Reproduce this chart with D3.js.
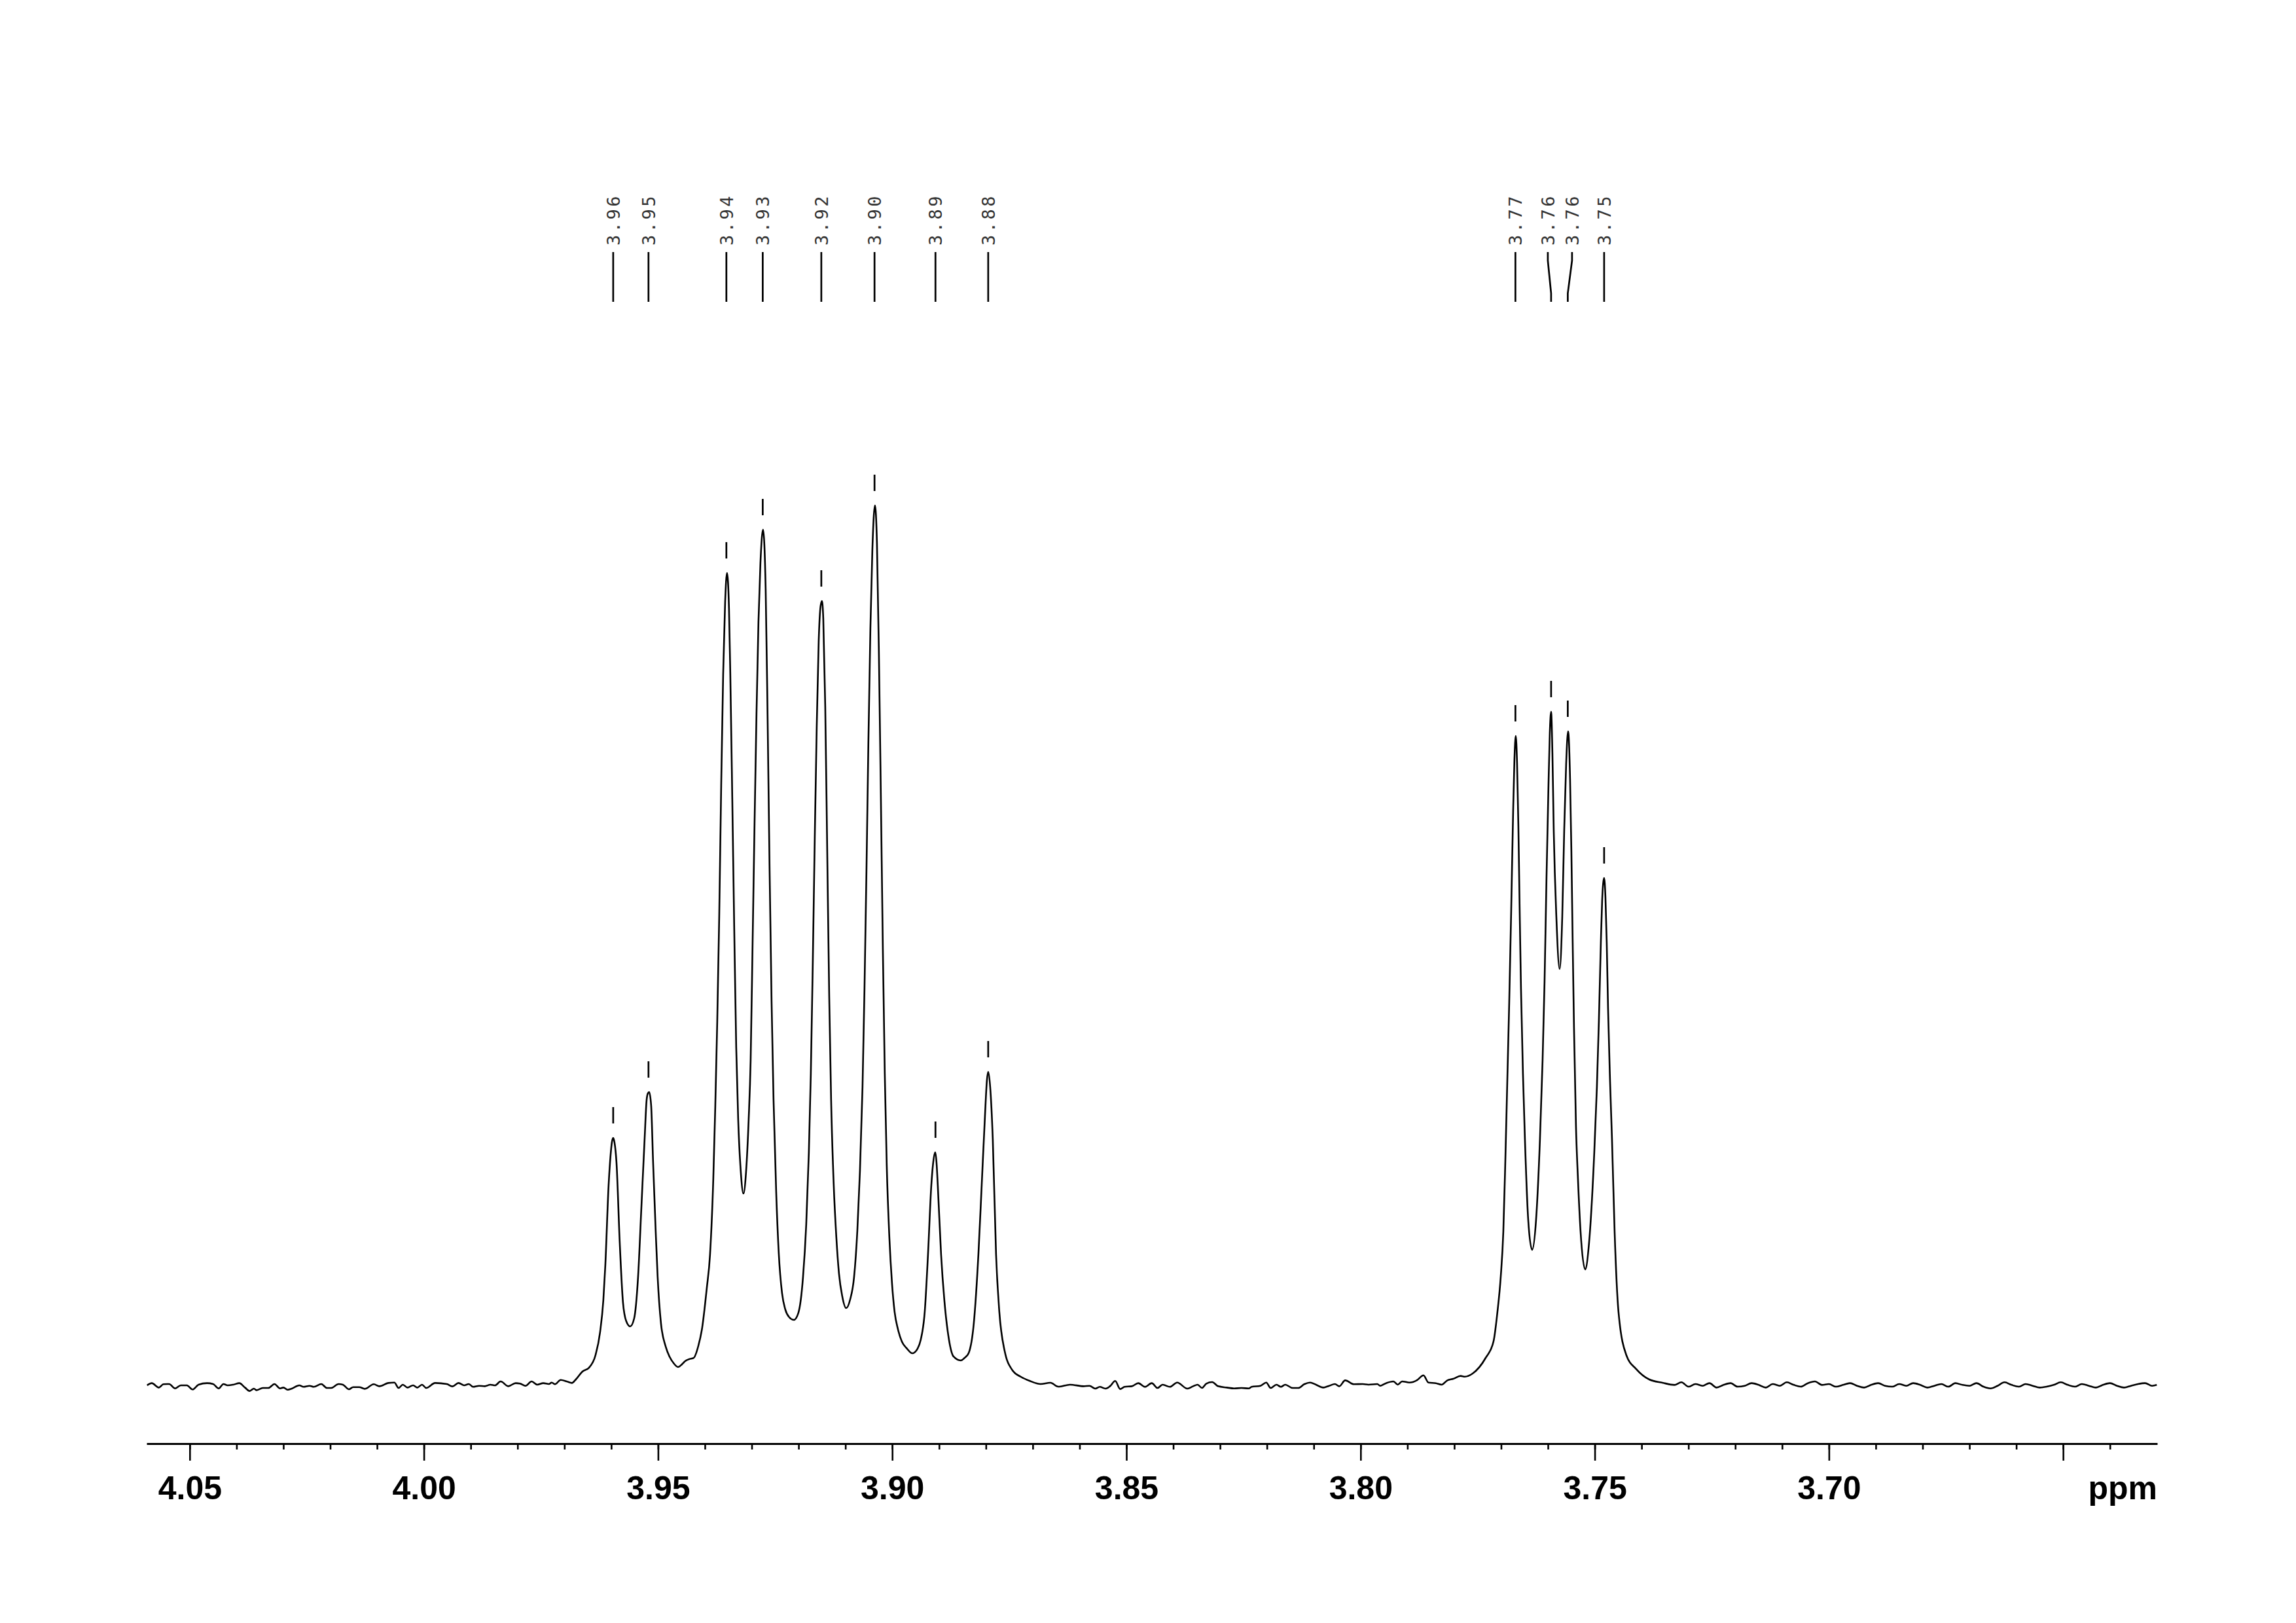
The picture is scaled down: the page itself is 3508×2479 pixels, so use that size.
<!DOCTYPE html>
<html><head><meta charset="utf-8">
<script src="https://cdn.jsdelivr.net/npm/d3@7"></script>
<style>html,body{margin:0;padding:0;background:#fff;} svg{display:block}</style>
</head><body>
<script>
// ---- DATA (ppm, relative intensity; tallest line = 100) ----
const baselineLeft = [[4.0591,-0.15],[4.0581,0.10],[4.0566,-0.40],[4.0556,-0.02],[4.0544,0],[4.0531,-0.50],[4.0519,-0.15],[4.0506,-0.15],[4.0494,-0.62],[4.0481,-0.07],[4.0463,0.10],[4.0450,0],[4.0438,-0.50],[4.0428,0],[4.0419,-0.15],[4.0407,-0.07],[4.0394,0.10],[4.0382,-0.40],[4.0372,-0.79],[4.0363,-0.52],[4.0357,-0.70],[4.0344,-0.45],[4.0332,-0.45],[4.0319,0],[4.0307,-0.50],[4.0300,-0.40],[4.0291,-0.65],[4.0282,-0.52],[4.0266,-0.15],[4.0257,-0.32],[4.0244,-0.20],[4.0235,-0.32],[4.0219,0],[4.0207,-0.45],[4.0198,-0.45],[4.0182,0],[4.0173,-0.07],[4.0160,-0.60],[4.0151,-0.35],[4.0138,-0.35],[4.0126,-0.55],[4.0107,-0.02],[4.0095,-0.25],[4.0076,0.12],[4.0063,0.17],[4.0054,-0.45],[4.0045,-0.07],[4.0035,-0.40],[4.0023,-0.15],[4.0014,-0.40],[4.0004,-0.07],[3.9995,-0.45],[3.9976,0.12],[3.9951,0],[3.9939,-0.27],[3.9926,0.12],[3.9914,-0.15],[3.9904,0],[3.9895,-0.32],[3.9882,-0.20],[3.9870,-0.25],[3.9858,-0.07],[3.9848,-0.15],[3.9836,0.30],[3.9820,-0.25],[3.9804,0.10],[3.9795,0.05],[3.9783,-0.20],[3.9770,0.30],[3.9758,-0.07],[3.9745,0.10],[3.9733,0],[3.9727,0.17],[3.9720,-0.02],[3.9708,0.47],[3.9695,0.30],[3.9684,0.12]];

const multipletA = [[3.96755,0.52],[3.96615,1.42],[3.96475,1.86],[3.96336,3.28],[3.96238,5.89],[3.96168,9.54],[3.96126,13.49],[3.96056,22.58],[3.96014,26.01],[3.95986,27.50],[3.95958,28.02],[3.95930,27.50],[3.95888,25.26],[3.95818,16.10],[3.95749,9.31],[3.95679,7.15],[3.95595,6.56],[3.95511,7.45],[3.95427,12.15],[3.95357,19.97],[3.95287,27.87],[3.95245,32.27],[3.95218,33.08],[3.95190,33.23],[3.95148,31.74],[3.95106,25.26],[3.95050,17.36],[3.95008,12.15],[3.94938,6.93],[3.94840,4.32],[3.94756,3.13],[3.94658,2.31],[3.94575,1.94],[3.94491,2.24],[3.94421,2.61],[3.94337,2.83],[3.94239,2.98],[3.94141,4.32],[3.94058,6.41],[3.93960,10.88],[3.93890,14.75],
[3.93820,23.40],[3.93778,31.59],[3.93736,41.28],[3.93694,53.20],[3.93652,68.11],[3.93610,80.77],[3.93568,88.97],[3.93527,92.32],[3.93485,88.23],[3.93457,80.77],
[3.93415,66.62],[3.93373,51.71],[3.93331,38.30],[3.93289,30.10],[3.93233,24.14],[3.93177,21.68],[3.93121,24.14],[3.93065,30.10],[3.93023,36.81],[3.92981,50.22],[3.92940,63.64],[3.92898,76.30],[3.92856,86.74],[3.92814,93.44],[3.92758,97.24],
[3.92702,90.46],[3.92660,75.56],[3.92618,58.42],[3.92576,43.52],[3.92534,32.34],[3.92478,21.91],[3.92422,14.83],[3.92353,10.36],[3.92283,8.49],[3.92199,7.60],[3.92101,7.30],[3.92003,8.12],[3.91905,12.15],
[3.91836,18.18],[3.91780,26.38],[3.91738,35.32],[3.91696,47.99],[3.91654,62.15],[3.91612,74.81],[3.91570,84.50],[3.91528,88.60],[3.91500,89.12],
[3.91472,87.11],[3.91430,77.05],[3.91388,60.66],[3.91346,44.26],[3.91305,32.34],[3.91249,22.65],[3.91193,16.69],[3.91137,12.59],[3.91067,9.99],[3.90983,8.64],[3.90899,9.61],[3.90815,12.15],
[3.90745,17.44],[3.90690,24.14],[3.90634,33.83],[3.90592,45.01],[3.90550,58.42],[3.90508,73.32],[3.90466,85.99],[3.90424,94.93],[3.90368,100],
[3.90326,95.68],[3.90284,83.01],[3.90242,66.62],[3.90200,49.48],[3.90159,35.32],[3.90117,24.89],[3.90061,16.69],[3.90005,11.48],[3.89949,8.20],
[3.89879,6.26],[3.89795,4.84],[3.89683,4.02],[3.89572,3.50],[3.89460,4.02],[3.89390,5.07],[3.89306,8.20],[3.89236,14.75],[3.89166,22.58],[3.89124,25.26],[3.89082,26.38],[3.89055,25.26],[3.89027,22.58],[3.88957,14.75],[3.88887,9.54],[3.88789,5.07],[3.88691,3.13],[3.88537,2.68],[3.88454,2.98],[3.88370,3.50],[3.88258,6.93],[3.88160,14.75],[3.88090,22.58],[3.88020,30.48],[3.87978,34.58],[3.87951,35.54],[3.87909,33.83],[3.87853,27.87],[3.87783,14.75],[3.87713,8.20],[3.87601,3.80],[3.87433,1.56],[3.87252,0.82],[3.87070,0.37],[3.86832,0],[3.86623,0.15],[3.86455,-0.30],[3.86204,-0.07]];

const baselineMid = [[3.85913,-0.25],[3.85789,-0.20],[3.85663,-0.52],[3.85569,-0.32],[3.85445,-0.52],[3.85351,-0.25],[3.85239,0.35],[3.85133,-0.57],[3.85040,-0.32],[3.84883,-0.25],[3.84746,0.10],[3.84602,-0.32],[3.84460,0.10],[3.84334,-0.45],[3.84229,-0.07],[3.84072,-0.32],[3.83916,0.17],[3.83698,-0.52],[3.83574,-0.25],[3.83480,-0.07],[3.83386,-0.45],[3.83293,0.05],[3.83168,0.22],[3.83042,-0.25],[3.82855,-0.40],[3.82700,-0.50],[3.82544,-0.45],[3.82388,-0.50],[3.82326,-0.32],[3.82138,-0.20],[3.82014,0.17],[3.81920,-0.45],[3.81796,-0.07],[3.81702,-0.32],[3.81609,-0.07],[3.81452,-0.45],[3.81328,-0.45],[3.81202,-0.02],[3.81078,0.17],[3.80953,-0.07],[3.80797,-0.40],[3.80672,-0.20],[3.80548,0],[3.80454,-0.25],[3.80329,0.42],[3.80141,-0.02],[3.79955,0],[3.79830,-0.07],[3.79642,0],[3.79581,-0.20],[3.79455,0.10],[3.79300,0.30],[3.79206,-0.07],[3.79113,0.30],[3.78956,0.17],[3.78801,0.42],[3.78657,0.99],[3.78551,0.17],[3.78394,0.10],[3.78270,-0.07],[3.78146,0.42],[3.78021,0.60],[3.77865,0.92],[3.77771,0.84]];

const multipletB = [[3.77609,1.19],[3.77329,2.98],[3.77162,4.84],[3.77078,8.20],[3.77008,12.15],[3.76952,17.36],[3.76910,25.26],[3.76868,34.35],[3.76826,43.52],[3.76784,53.95],[3.76743,65.13],[3.76715,71.09],[3.76687,73.77],[3.76659,70.72],[3.76631,63.64],[3.76603,53.95],[3.76575,45.01],[3.76533,35.32],[3.76491,27.87],[3.76421,18.70],[3.76337,15.28],[3.76253,18.70],
[3.76170,27.87],[3.76114,36.81],[3.76072,45.75],[3.76030,57.68],[3.75988,68.11],[3.75960,74.07],[3.75932,76.53],[3.75904,71.83],[3.75876,63.11],[3.75820,53.20],[3.75750,47.24],[3.75694,53.20],[3.75652,63.11],[3.75611,70.57],[3.75569,74.29],
[3.75527,68.85],[3.75499,60.66],[3.75471,50.22],[3.75443,40.54],[3.75401,29.36],[3.75359,23.40],[3.75303,17.36],[3.75205,13.04],[3.75121,16.10],
[3.75010,26.38],[3.74954,33.83],[3.74912,41.28],[3.74870,50.22],[3.74842,55.07],[3.74800,57.60],[3.74772,55.44],[3.74744,50.22],[3.74716,42.77],[3.74674,34.58],[3.74632,27.87],[3.74576,17.36],[3.74493,8.20],[3.74325,3.28],[3.74115,1.71],[3.73836,0.52],[3.73556,0.15]];

const baselineRight = [[3.7330,-0.1],[3.7315,0.2],[3.7300,-0.3],[3.7285,0.0],[3.7270,-0.2],[3.7255,0.1],[3.7240,-0.4],[3.7225,-0.1],[3.7210,0.1],[3.7195,-0.3],[3.7180,-0.2],[3.7165,0.1],[3.7150,-0.1],[3.7135,-0.4],[3.7120,0.0],[3.7105,-0.2],[3.7090,0.2],[3.7075,-0.1],[3.7060,-0.3],[3.7045,0.1],[3.7030,0.3],[3.7015,-0.1],[3.7000,0.0],[3.6985,-0.3],[3.6970,-0.1],[3.6955,0.1],[3.6940,-0.2],[3.6925,-0.4],[3.6910,-0.1],[3.6895,0.1],[3.6880,-0.2],[3.6865,-0.3],[3.6850,0.0],[3.6835,-0.2],[3.6820,0.1],[3.6805,-0.1],[3.6790,-0.4],[3.6775,-0.2],[3.6760,0.0],[3.6745,-0.3],[3.6730,0.1],[3.6715,-0.1],[3.6700,-0.2],[3.6685,0.1],[3.6670,-0.3],[3.6655,-0.5],[3.6640,-0.2],[3.6625,0.2],[3.6610,-0.1],[3.6595,-0.3],[3.6580,0.0],[3.6565,-0.2],[3.6550,-0.4],[3.6535,-0.3],[3.6520,-0.1],[3.6505,0.2],[3.6490,-0.1],[3.6475,-0.3],[3.6460,0.0],[3.6445,-0.2],[3.6430,-0.4],[3.6415,-0.1],[3.6400,0.1],[3.6385,-0.2],[3.6370,-0.4],[3.6355,-0.2],[3.6340,0.0],[3.6325,0.1],[3.6310,-0.2],[3.6300,-0.1]];

const peakPpm    = [3.95958,3.95204,3.93541,3.92765,3.91514,3.90378,3.89077,3.87951,3.76694,3.75932,3.75576,3.74800];
const peakLabels = ["3.96","3.95","3.94","3.93","3.92","3.90","3.89","3.88","3.77","3.76","3.76","3.75"];
const labelPpm   = [3.95958,3.95204,3.93541,3.92765,3.91514,3.90378,3.89077,3.87951,3.76694,3.76002,3.75485,3.74800];

const majorTicks = [4.05,4.00,3.95,3.90,3.85,3.80,3.75,3.70,3.65];
const majorLabels = ["4.05","4.00","3.95","3.90","3.85","3.80","3.75","3.70",""];
const minorTicks = [4.05,4.04,4.03,4.02,4.01,4.00,3.99,3.98,3.97,3.96,3.95,3.94,3.93,3.92,3.91,3.90,3.89,3.88,3.87,3.86,3.85,3.84,3.83,3.82,3.81,3.80,3.79,3.78,3.77,3.76,3.75,3.74,3.73,3.72,3.71,3.70,3.69,3.68,3.67,3.66,3.65,3.64];
const axisUnit = "ppm";
const xDomain = [4.0592, 3.6299];
const yDomain = [0, 100];

// ---- DRAWING ----
const W = 3508, H = 2479;
const spectrum = [].concat(baselineLeft, multipletA, baselineMid, multipletB, baselineRight);

const svg = d3.select("body").append("svg").attr("width", W).attr("height", H)
  .style("background", "#fff");
svg.append("rect").attr("width", W).attr("height", H).attr("fill", "#fff");

const x = d3.scaleLinear().domain(xDomain).range([224, 3296]);
const y = d3.scaleLinear().domain(yDomain).range([2114, 772]);
const axisY = 2205;

// spectrum
const line = d3.line().x(d => x(d[0])).y(d => y(d[1])).curve(d3.curveMonotoneX);
svg.append("path").datum(spectrum)
  .attr("d", line).attr("fill", "none").attr("stroke", "#000")
  .attr("stroke-width", 2.6).attr("stroke-linejoin", "round");

// minor axis
const gMinor = svg.append("g").attr("transform", `translate(0,${axisY})`)
  .call(d3.axisBottom(x).tickValues(minorTicks).tickSize(9).tickSizeOuter(0).tickFormat(""));
gMinor.select(".domain").attr("stroke", "#000").attr("stroke-width", 3.2);
gMinor.selectAll(".tick line").attr("stroke", "#000").attr("stroke-width", 2.6);

// major axis
const gMajor = svg.append("g").attr("transform", `translate(0,${axisY})`)
  .call(d3.axisBottom(x).tickValues(majorTicks).tickSize(26).tickSizeOuter(0)
    .tickFormat((d, i) => majorLabels[i]));
gMajor.select(".domain").remove();
gMajor.selectAll(".tick line").attr("stroke", "#000").attr("stroke-width", 2.6);
gMajor.selectAll(".tick text")
  .attr("y", 85).attr("dy", null)
  .attr("fill", "#000")
  .style("font-family", "'Liberation Sans', Arial, sans-serif")
  .style("font-weight", "bold").style("font-size", "50px");

svg.append("text").attr("x", 3296).attr("y", axisY + 85)
  .attr("text-anchor", "end")
  .style("font-family", "'Liberation Sans', Arial, sans-serif")
  .style("font-weight", "bold").style("font-size", "50px")
  .text(axisUnit);

// peak markers
function peakHeight(p) {
  let best = -Infinity;
  spectrum.forEach(d => { if (Math.abs(d[0] - p) < 0.0004 && d[1] > best) best = d[1]; });
  return best;
}
const peaks = peakPpm.map((p, i) => ({ p, lp: labelPpm[i], label: peakLabels[i], h: peakHeight(p) }));

const gPk = svg.append("g");
gPk.selectAll("line.pt").data(peaks).enter().append("line")
  .attr("class", "pt")
  .attr("x1", d => x(d.p)).attr("x2", d => x(d.p))
  .attr("y1", d => y(d.h) - 22).attr("y2", d => y(d.h) - 47)
  .attr("stroke", "#000").attr("stroke-width", 2.7);

gPk.selectAll("path.ll").data(peaks).enter().append("path")
  .attr("class", "ll")
  .attr("d", d => `M${x(d.lp)},385 L${x(d.lp)},398 L${x(d.p)},448 L${x(d.p)},461`)
  .attr("fill", "none").attr("stroke", "#000").attr("stroke-width", 2.7);

gPk.selectAll("text.lt").data(peaks).enter().append("text")
  .attr("class", "lt")
  .attr("transform", d => `translate(${x(d.lp)},375) rotate(-90)`)
  .attr("dy", "0.36em")
  .attr("text-anchor", "start")
  .attr("fill", "#333")
  .style("font-family", "'DejaVu Sans Mono', monospace")
  .style("font-size", "27px")
  .style("letter-spacing", "3.5px")
  .text(d => d.label);
</script>
</body></html>
